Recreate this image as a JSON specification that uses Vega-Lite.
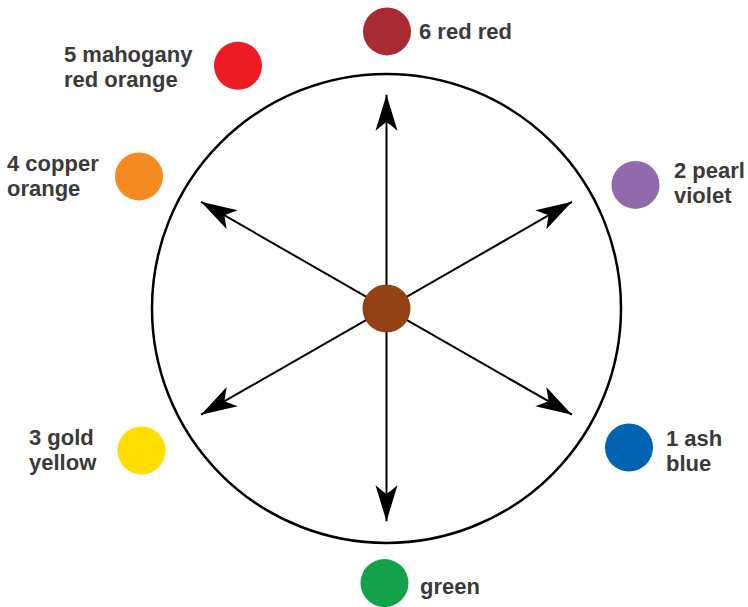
{
  "$schema": "https://vega.github.io/schema/vega-lite/v6.json",
  "width": 748,
  "height": 607,
  "autosize": {"type": "fit", "contains": "padding"},
  "padding": 0,
  "background": "white",
  "config": {"view": {"stroke": null}},
  "datasets": {
    "ring": [{"x": 386.5, "y": 309.5}],
    "arrows": [
      {"dir": 0, "x0": 386.5, "y0": 309.5, "x": 386.5, "y": 95},
      {"dir": 60, "x0": 386.5, "y0": 309.5, "x": 572, "y": 202.5},
      {"dir": 120, "x0": 386.5, "y0": 309.5, "x": 572, "y": 416},
      {"dir": 180, "x0": 386.5, "y0": 309.5, "x": 386.5, "y": 523},
      {"dir": 240, "x0": 386.5, "y0": 309.5, "x": 201, "y": 416},
      {"dir": 300, "x0": 386.5, "y0": 309.5, "x": 201, "y": 202.5}
    ],
    "dots": [
      {"name": "center", "x": 386.5, "y": 309.5},
      {"name": "6 red red", "x": 387, "y": 31.5},
      {"name": "5 mahogany red orange", "x": 238, "y": 66},
      {"name": "4 copper orange", "x": 139, "y": 177},
      {"name": "2 pearl violet", "x": 635.5, "y": 185.5},
      {"name": "1 ash blue", "x": 629, "y": 449},
      {"name": "3 gold yellow", "x": 141.5, "y": 452},
      {"name": "green", "x": 384.5, "y": 585}
    ],
    "labels": [
      {"label": "6 red red", "x": 419, "y": 39},
      {"label": "5 mahogany\nred orange", "x": 64, "y": 62.7},
      {"label": "4 copper\norange", "x": 7, "y": 171.7},
      {"label": "2 pearl\nviolet", "x": 674, "y": 179},
      {"label": "1 ash\nblue", "x": 666, "y": 447.7},
      {"label": "3 gold\nyellow", "x": 29, "y": 446.7},
      {"label": "green", "x": 420, "y": 596}
    ]
  },
  "encoding": {
    "x": {"field": "x", "type": "quantitative", "scale": {"domain": [0, 748], "nice": false, "zero": false}, "axis": null},
    "y": {"field": "y", "type": "quantitative", "scale": {"domain": [0, 607], "nice": false, "zero": false, "reverse": true}, "axis": null}
  },
  "layer": [
    {
      "data": {"name": "ring"},
      "mark": {"type": "point", "shape": "circle", "filled": false, "stroke": "black", "strokeWidth": 2.5, "size": 219961, "opacity": 1}
    },
    {
      "data": {"name": "arrows"},
      "mark": {"type": "rule", "stroke": "black", "strokeWidth": 2},
      "encoding": {
        "x": {"field": "x0", "type": "quantitative"},
        "y": {"field": "y0", "type": "quantitative"},
        "x2": {"field": "x"},
        "y2": {"field": "y"}
      }
    },
    {
      "data": {"name": "arrows"},
      "mark": {"type": "point", "shape": "M0,0L-0.55,1.8L0,1.35L0.55,1.8Z", "filled": true, "fill": "black", "strokeWidth": 0, "size": 1600, "opacity": 1},
      "encoding": {
        "angle": {"field": "dir", "type": "quantitative", "scale": null}
      }
    },
    {
      "data": {"name": "dots"},
      "mark": {"type": "point", "shape": "circle", "filled": true, "size": 2304, "opacity": 1, "strokeWidth": 0},
      "encoding": {
        "color": {
          "field": "name", "type": "nominal", "legend": null,
          "scale": {
            "domain": ["center", "6 red red", "5 mahogany red orange", "4 copper orange", "2 pearl violet", "1 ash blue", "3 gold yellow", "green"],
            "range": ["#934216", "#a92a32", "#ed1c24", "#f48a20", "#9169ad", "#0064b2", "#ffdd00", "#13a14a"]
          }
        }
      }
    },
    {
      "data": {"name": "labels"},
      "mark": {"type": "text", "align": "left", "baseline": "alphabetic", "font": "Liberation Sans", "fontWeight": "bold", "fontSize": 22, "lineHeight": 25, "lineBreak": "\n", "color": "#3a3a3a"},
      "encoding": {
        "text": {"field": "label", "type": "nominal"}
      }
    }
  ]
}
